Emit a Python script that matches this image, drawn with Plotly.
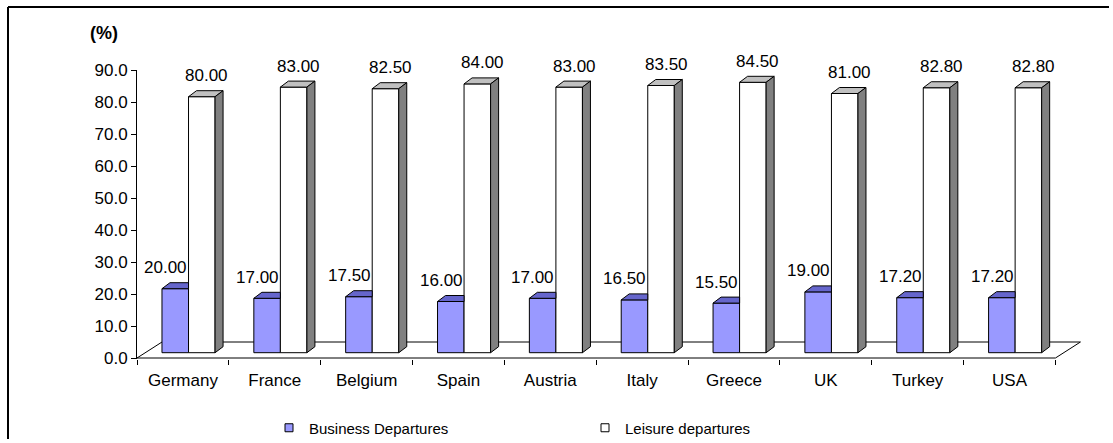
import plotly.graph_objects as go

# Share of outbound departures by purpose (%)
countries = ["Germany", "France", "Belgium", "Spain", "Austria",
             "Italy", "Greece", "UK", "Turkey", "USA"]
business = [20.00, 17.00, 17.50, 16.00, 17.00, 16.50, 15.50, 19.00, 17.20, 17.20]
leisure = [80.00, 83.00, 82.50, 84.00, 83.00, 83.50, 84.50, 81.00, 82.80, 82.80]
y_ticks = [0, 10, 20, 30, 40, 50, 60, 70, 80, 90]

FONT = "Arial, 'Liberation Sans', sans-serif"
W, H = 1113, 443

# plot-area geometry (pixels)
L_PX, R_PX = 137, 1083
T_PX, B_PX = 70, 359
X_RANGE = [-0.5, 9.8]
PX_PER_X = (R_PX - L_PX) / (X_RANGE[1] - X_RANGE[0])
PX_PER_Y = 3.2
Y_RANGE = [-(B_PX - 358) / PX_PER_Y, 90]
BAR_LIFT = 5.3 / PX_PER_Y          # bars stand a little behind the front floor edge
Y2_RANGE = [Y_RANGE[0] - BAR_LIFT, Y_RANGE[1] - BAR_LIFT]

# bar geometry (category units / value units)
BAR_W = 0.289
OFF_B = -0.228
OFF_L = OFF_B + BAR_W
DX = 8 / PX_PER_X                  # depth of the 3-D extrusion
DY = 6 / PX_PER_Y

C_BUS, C_BUS_TOP = "#9999FF", "#6666CC"
C_LEI, C_LEI_TOP, C_LEI_SIDE = "#FFFFFF", "#C0C0C0", "#808080"

idx = list(range(len(countries)))
fig = go.Figure()

# front faces
fig.add_trace(go.Bar(x=idx, y=business, width=BAR_W, offset=OFF_B,
                     marker=dict(color=C_BUS, line=dict(color="black", width=1)),
                     yaxis="y2", showlegend=False, name="Business Departures"))
fig.add_trace(go.Bar(x=idx, y=leisure, width=BAR_W, offset=OFF_L,
                     marker=dict(color=C_LEI, line=dict(color="black", width=1)),
                     yaxis="y2", showlegend=False, name="Leisure departures"))


def polys(points_list):
    xs, ys = [], []
    for pts in points_list:
        for px, py in pts:
            xs.append(px)
            ys.append(py)
        xs.append(pts[0][0])
        ys.append(pts[0][1])
        xs.append(None)
        ys.append(None)
    return xs, ys


# business tops (the back part is hidden by the leisure bar)
bt = []
for i, v in zip(idx, business):
    x0, x1 = i + OFF_B, i + OFF_B + BAR_W
    bt.append([(x0, v), (x1, v), (x1, v + DY), (x0 + DX, v + DY)])
# leisure tops and sides
lt, ls = [], []
for i, v in zip(idx, leisure):
    x0, x1 = i + OFF_L, i + OFF_L + BAR_W
    lt.append([(x0, v), (x1, v), (x1 + DX, v + DY), (x0 + DX, v + DY)])
    ls.append([(x1, 0), (x1 + DX, DY), (x1 + DX, v + DY), (x1, v)])

for pts, col in ((bt, C_BUS_TOP), (lt, C_LEI_TOP), (ls, C_LEI_SIDE)):
    xs, ys = polys(pts)
    fig.add_trace(go.Scatter(x=xs, y=ys, mode="lines", fill="toself", fillcolor=col,
                             line=dict(color="black", width=1), yaxis="y2",
                             hoverinfo="skip", showlegend=False))

# value labels, anchored at the bar top and lifted in pixels
LABEL_LIFT = 21
annotations = []
for i, v in zip(idx, business):
    annotations.append(dict(x=i - 0.19, y=v, xref="x", yref="y2", yshift=LABEL_LIFT,
                            text=f"{v:.2f}", showarrow=False,
                            xanchor="center", yanchor="middle",
                            font=dict(family=FONT, size=17, color="black")))
for i, v in zip(idx, leisure):
    annotations.append(dict(x=i + 0.26, y=v, xref="x", yref="y2", yshift=LABEL_LIFT,
                            text=f"{v:.2f}", showarrow=False,
                            xanchor="center", yanchor="middle",
                            font=dict(family=FONT, size=17, color="black")))

# legend entries
fig.add_trace(go.Scatter(x=[None], y=[None], mode="markers", name="Business Departures",
                         marker=dict(symbol="square", size=8, color=C_BUS,
                                     line=dict(color="black", width=1)),
                         legend="legend"))
fig.add_trace(go.Scatter(x=[None], y=[None], mode="markers", name="Leisure departures",
                         marker=dict(symbol="square", size=8, color=C_LEI,
                                     line=dict(color="black", width=1)),
                         legend="legend2"))

# floor of the 3-D plot
FD_X, FD_Y = 25 / PX_PER_X, 16 / PX_PER_Y
floor = (f"M {-0.5},{0} L {9.5},{0} L {9.5 + FD_X},{FD_Y} "
         f"L {-0.5 + FD_X},{FD_Y} Z")
shapes = [dict(type="path", path=floor, xref="x", yref="y", layer="below",
               fillcolor="white", line=dict(color="black", width=1))]

# outer chart frame: left and top edges, kept clear of the page border
pw, ph = R_PX - L_PX, B_PX - T_PX
fx0, fy1 = (8 - L_PX) / pw, (B_PX - 7) / ph
shapes.append(dict(type="line", xref="paper", yref="paper",
                   x0=fx0, x1=fx0, y0=(B_PX - (H - 4)) / ph, y1=fy1,
                   line=dict(color="black", width=2)))
shapes.append(dict(type="line", xref="paper", yref="paper",
                   x0=fx0, x1=(W - 4 - L_PX) / pw, y0=fy1, y1=fy1,
                   line=dict(color="black", width=2)))

leg_common = dict(orientation="h", xref="container", yref="container",
                  xanchor="left", yanchor="middle", bgcolor="rgba(0,0,0,0)",
                  font=dict(family=FONT, size=15, color="black"),
                  itemwidth=30, borderwidth=0)

fig.update_layout(
    width=W, height=H,
    margin=dict(l=L_PX, r=W - R_PX, t=T_PX, b=H - B_PX, pad=0),
    paper_bgcolor="white", plot_bgcolor="rgba(0,0,0,0)",
    barmode="overlay",
    font=dict(family=FONT, size=17, color="black"),
    title=dict(text="<b>(%)</b>", xref="container", yref="container",
               x=104 / W, xanchor="center", y=1 - 33 / H, yanchor="middle",
               font=dict(family=FONT, size=18, color="black")),
    xaxis=dict(range=X_RANGE, tickvals=idx, ticktext=countries, ticks="",
               showgrid=False, zeroline=False, showline=False,
               ticklabelstandoff=9,
               tickfont=dict(family=FONT, size=17, color="black"),
               minor=dict(tickvals=[i - 0.5 for i in range(len(countries) + 1)],
                          ticks="outside", ticklen=5, tickcolor="black", tickwidth=1,
                          showgrid=False)),
    yaxis=dict(range=Y_RANGE, tickvals=y_ticks, tickformat=".1f", ticks="outside",
               ticklen=5, tickcolor="black", showline=True, linecolor="black",
               linewidth=1, showgrid=False, zeroline=False,
               tickfont=dict(family=FONT, size=17, color="black")),
    yaxis2=dict(range=Y2_RANGE, overlaying="y", visible=False),
    legend=dict(x=269 / W, y=1 - 428 / H, **leg_common),
    legend2=dict(x=585 / W, y=1 - 428 / H, **leg_common),
    annotations=annotations,
    shapes=shapes,
    showlegend=True,
)

fig.write_html("out.html")
